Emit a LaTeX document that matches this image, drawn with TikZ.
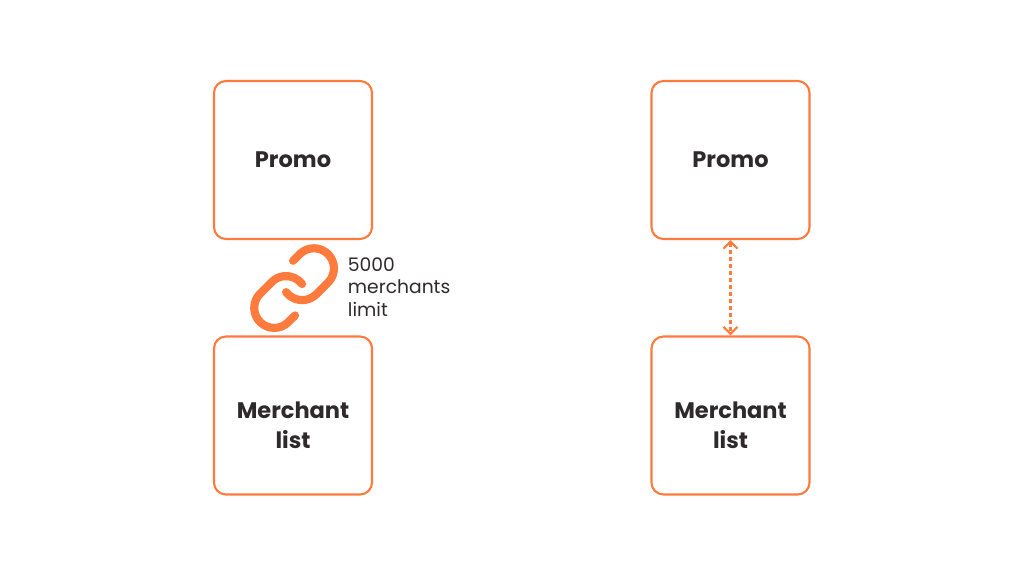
\documentclass[tikz,border=0pt]{standalone}
\usepackage{fontspec}
\setmainfont{Poppins}
\usetikzlibrary{arrows.meta,positioning,svg.path}
\definecolor{promoorange}{HTML}{FF7A3D}
\definecolor{inkdark}{HTML}{2E2A2B}
\newcommand{\lowered}[1]{\raisebox{-0.45cm}[0pt][0pt]{\begin{tabular}{@{}c@{}}#1\end{tabular}}}
\tikzset{
	block/.style={
		rectangle,
		rounded corners=0.3cm,
		line width=1.5pt,
		draw=promoorange,
		minimum width=3.95cm,
		minimum height=3.95cm,
		align=center,
		text=inkdark,
		font=\bfseries\fontsize{16}{21}\selectfont
	},
	linkpart/.style={
		draw=promoorange,
		line width=5.8pt,
		line cap=round,
		line join=round
	},
	twoway/.style={
		{Straight Barb[length=5pt,width=10pt]}-{Straight Barb[length=5pt,width=10pt]},
		draw=promoorange,
		line width=1.5pt,
		dash pattern=on 3pt off 2pt
	}
}
\begin{document}
\begin{tikzpicture}[x=0.025cm,y=-0.025cm]
\useasboundingbox (0,0) rectangle (1024,576);
% left pair
\node [block] (PromoA) at (293,160) {Promo};
\node [block] (MerchantA) at (293,415.5) {\lowered{Merchant\\list}};
% chain icon
\begin{scope}[shift={(246,240)},yscale=-1,scale=2.85]
\draw [linkpart] svg {M10 13a5 5 0 0 0 7.54.54l3-3a5 5 0 0 0-7.07-7.07l-1.72 1.71};
\draw [linkpart] svg {M14 11a5 5 0 0 0-7.54-.54l-3 3a5 5 0 0 0 7.07 7.07l1.71-1.71};
\end{scope}
\node [anchor=north west,align=left,text=inkdark,font=\fontsize{13.3}{15.8}\selectfont] (LimitNote) at (343,253) {5000\\merchants\\limit};
% right pair
\node [block] (PromoB) at (730.5,160) {Promo};
\node [block] (MerchantB) at (730.5,415.5) {\lowered{Merchant\\list}};
\draw [twoway] (PromoB.south) -- (MerchantB.north);
\end{tikzpicture}
\end{document}
